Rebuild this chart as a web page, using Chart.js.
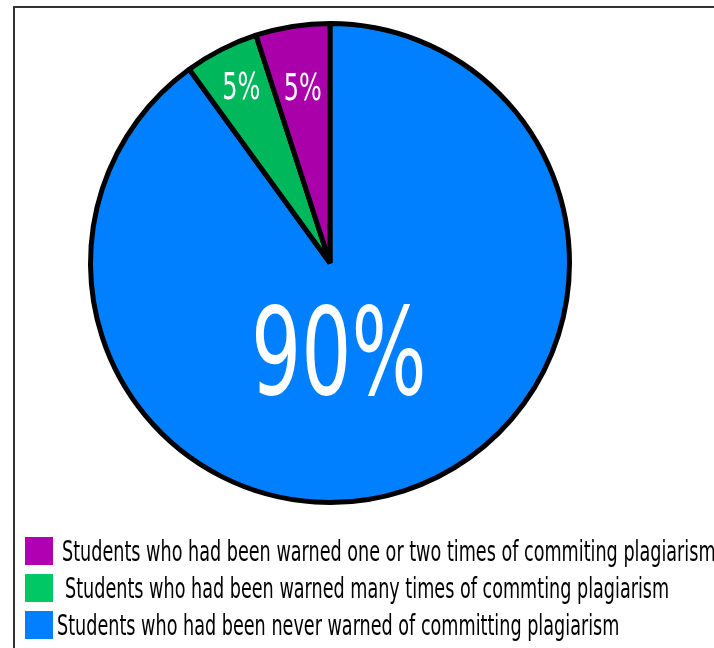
<!DOCTYPE html>
<html>
<head>
<meta charset="utf-8">
<script src="https://cdn.jsdelivr.net/npm/chart.js@4/dist/chart.umd.min.js"></script>
<style>
  html, body { margin: 0; padding: 0; background: #fff; }
  #wrap { position: relative; width: 714px; height: 648px; overflow: hidden; }
  #frame { position: absolute; left: 13px; top: 6px; width: 800px; height: 800px;
           border-left: 2px solid #333; border-top: 2px solid #333; }
  #pie { position: absolute; left: 0; top: 0; }
  #legend { position: absolute; left: 25px; top: 537px; }
  .row { position: relative; height: 37px; white-space: nowrap; }
  .box { position: absolute; left: 0; top: 0; width: 28px; height: 28px; }
  .txt { position: absolute; top: -3px; font-family: "Liberation Sans Narrow", "DejaVu Sans Condensed", "Roboto Condensed", sans-serif;
         font-size: 29px; color: #000; transform-origin: 0 0; transform: scaleX(0.675); }
</style>
</head>
<body>
<div id="wrap">
  <div id="frame"></div>
  <canvas id="pie" width="714" height="648"></canvas>
  <div id="legend"></div>
</div>
<script>
// drawn clockwise from the top
const categories = [
    'Students who had been never warned of committing plagiarism',
    ' Students who had been warned many times of commting plagiarism',
    'Students who had been warned one or two times of commiting plagiarism'
];
const shares = [90, 5, 5];
const valueLabels = ['90%', '5%', '5%'];
const sliceColors = ['#0080ff', '#00b85c', '#aa00aa'];
const legendColors = ['#0080ff', '#00c864', '#b000b0'];

const sliceText = {
    id: 'sliceText',
    afterDatasetsDraw(chart) {
        const c = chart.ctx;
        const arcs = chart.getDatasetMeta(0).data;
        const along = [0.54, 0.5, 0.5];
        const radial = [0.415, 0.815, 0.73];
        const sizes = [122, 37, 37];
        arcs.forEach((arc, i) => {
            const p = arc.getProps(['x', 'y', 'startAngle', 'endAngle', 'outerRadius']);
            const a = p.startAngle + (p.endAngle - p.startAngle) * along[i];
            const r = p.outerRadius * radial[i];
            const x = p.x + Math.cos(a) * r;
            const y = p.y + Math.sin(a) * r;
            c.save();
            c.translate(x, y);
            c.scale(0.72, 1);
            c.fillStyle = '#fff';
            c.font = sizes[i] + 'px "Liberation Sans Narrow", "DejaVu Sans Condensed", sans-serif';
            c.textAlign = 'center';
            c.textBaseline = 'middle';
            c.fillText(valueLabels[i], 0, 0);
            c.restore();
        });
    }
};

new Chart(document.getElementById('pie'), {
    type: 'pie',
    data: {
        labels: categories,
        datasets: [{
            data: shares,
            backgroundColor: sliceColors,
            borderColor: '#000',
            borderWidth: 5
        }]
    },
    options: {
        responsive: false,
        animation: false,
        layout: { padding: { left: 88, top: 21, right: 142, bottom: 143 } },
        plugins: {
            legend: { display: false },
            tooltip: { enabled: false }
        }
    },
    plugins: [sliceText]
});

// legend lists the slices in reverse order
const legend = document.getElementById('legend');
const offsets = [32, 40, 37];
for (let i = categories.length - 1; i >= 0; i--) {
    const row = document.createElement('div');
    row.className = 'row';
    const box = document.createElement('div');
    box.className = 'box';
    box.style.background = legendColors[i];
    const txt = document.createElement('div');
    txt.className = 'txt';
    txt.style.left = offsets[i] + 'px';
    txt.textContent = categories[i].trim();
    row.appendChild(box);
    row.appendChild(txt);
    legend.appendChild(row);
}
</script>
</body>
</html>
